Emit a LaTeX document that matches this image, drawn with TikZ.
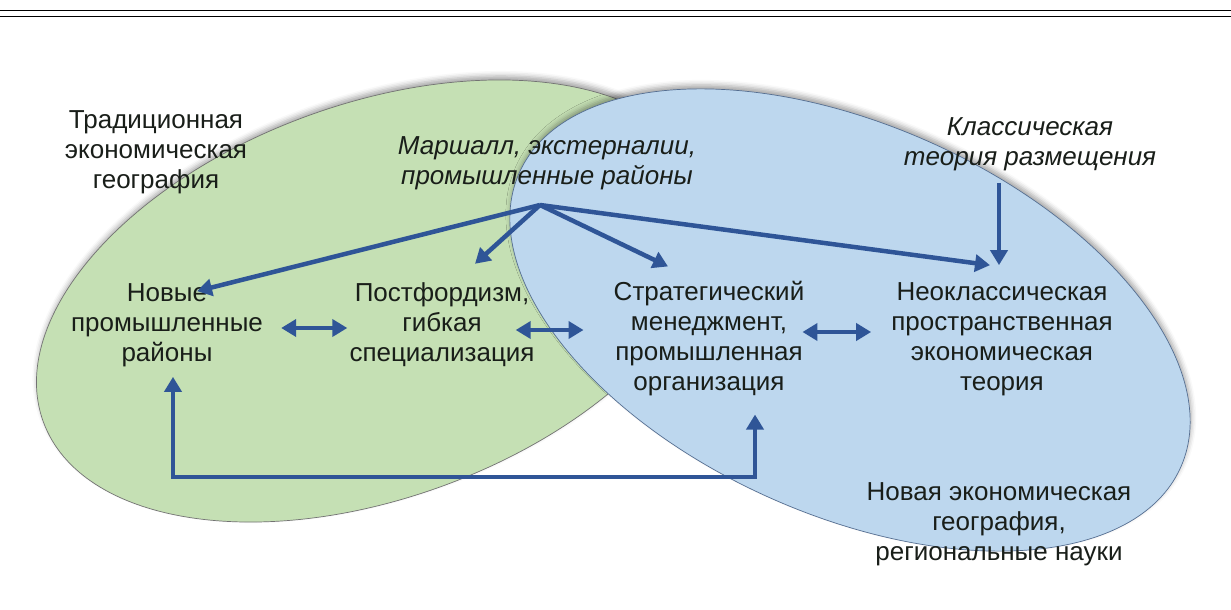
\documentclass[tikz,border=0pt]{standalone}
\usepackage{fontspec}
\setmainfont{Liberation Sans}
\usepackage{xcolor}
\usetikzlibrary{arrows.meta,shadows.blur}
\definecolor{greenfill}{RGB}{197,224,180}
\definecolor{bluefill}{RGB}{189,215,238}
\definecolor{blueline}{RGB}{85,110,145}
\definecolor{arrowblue}{RGB}{47,85,151}
\definecolor{txt}{RGB}{25,30,25}

\begin{document}
\begin{tikzpicture}[x=1pt,y=-1pt,
  lbl/.style={align=center, inner sep=0pt, text=txt, font=\fontsize{26}{30}\selectfont},
  ilbl/.style={lbl, font=\fontsize{26}{30}\selectfont\itshape},
  flow/.style={draw=arrowblue, line width=4.5pt, -{Triangle[length=15pt,width=17pt]}},
  dflow/.style={flow, {Triangle[length=15pt,width=17pt]}-{Triangle[length=15pt,width=17pt]}},
  fieldshadow/.style={blur shadow={shadow xshift=1pt, shadow yshift=4pt, shadow blur radius=5pt, shadow opacity=35}}]
\useasboundingbox (0,0) rectangle (1231,610);
% page rules
\draw[line width=1.2pt] (0,10.5) -- (1231,10.5);
\draw[line width=1.5pt] (0,16.5) -- (1231,16.5);
% the two fields
\draw[fill=greenfill, draw=black!55, line width=0.7pt, fieldshadow, rotate around={20:(375,301)}] (375,301) ellipse [x radius=353, y radius=197];
\draw[fill=bluefill, draw=blueline, line width=0.7pt, fieldshadow, rotate around={-24:(850,320)}] (850,320) ellipse [x radius=362, y radius=195];
% labels
\node[lbl] (trad) at (156,152) {Традиционная\\экономическая\\география};
\node[ilbl] (marsh) at (547,163) {Маршалл, экстерналии,\\промышленные районы};
\node[ilbl] (klass) at (1030,144) {Классическая\\теория размещения};
\node[lbl] (npr) at (167,325) {Новые\\промышленные\\районы};
\node[lbl] (post) at (442,325) {Постфордизм,\\гибкая\\специализация};
\node[lbl] (strat) at (709,339) {Стратегический\\менеджмент,\\промышленная\\организация};
\node[lbl] (neo) at (1002,339) {Неоклассическая\\пространственная\\экономическая\\теория};
\node[lbl] (neg) at (999,524) {Новая экономическая\\география,\\региональные науки};
% arrows
\coordinate (hub) at (540,205);
\coordinate (low) at (460,477);
\draw[flow] (hub) -- ([shift={(30,8)}]npr.north);
\draw[flow] (hub) -- ([shift={(33,-19)}]post.north);
\draw[flow] (hub) -- ([shift={(-41,-15)}]strat.north);
\draw[flow] (hub) -- ([shift={(-12,-17)}]neo.north);
\draw[flow] ([shift={(-31,12)}]klass.south) -- ([shift={(-3,-17)}]neo.north);
\draw[dflow] ([shift={(18,3)}]npr.east) -- ([shift={(-2,3)}]post.west);
\draw[dflow] ([shift={(-19,5)}]post.east) -- ([shift={(-30,-9)}]strat.west);
\draw[dflow] ([shift={(-2,-7)}]strat.east) -- ([shift={(-20,-7)}]neo.west);
\draw[dflow] ([shift={(6,10)}]npr.south) |- (low) -| ([shift={(46,18)}]strat.south);
\end{tikzpicture}
\end{document}
